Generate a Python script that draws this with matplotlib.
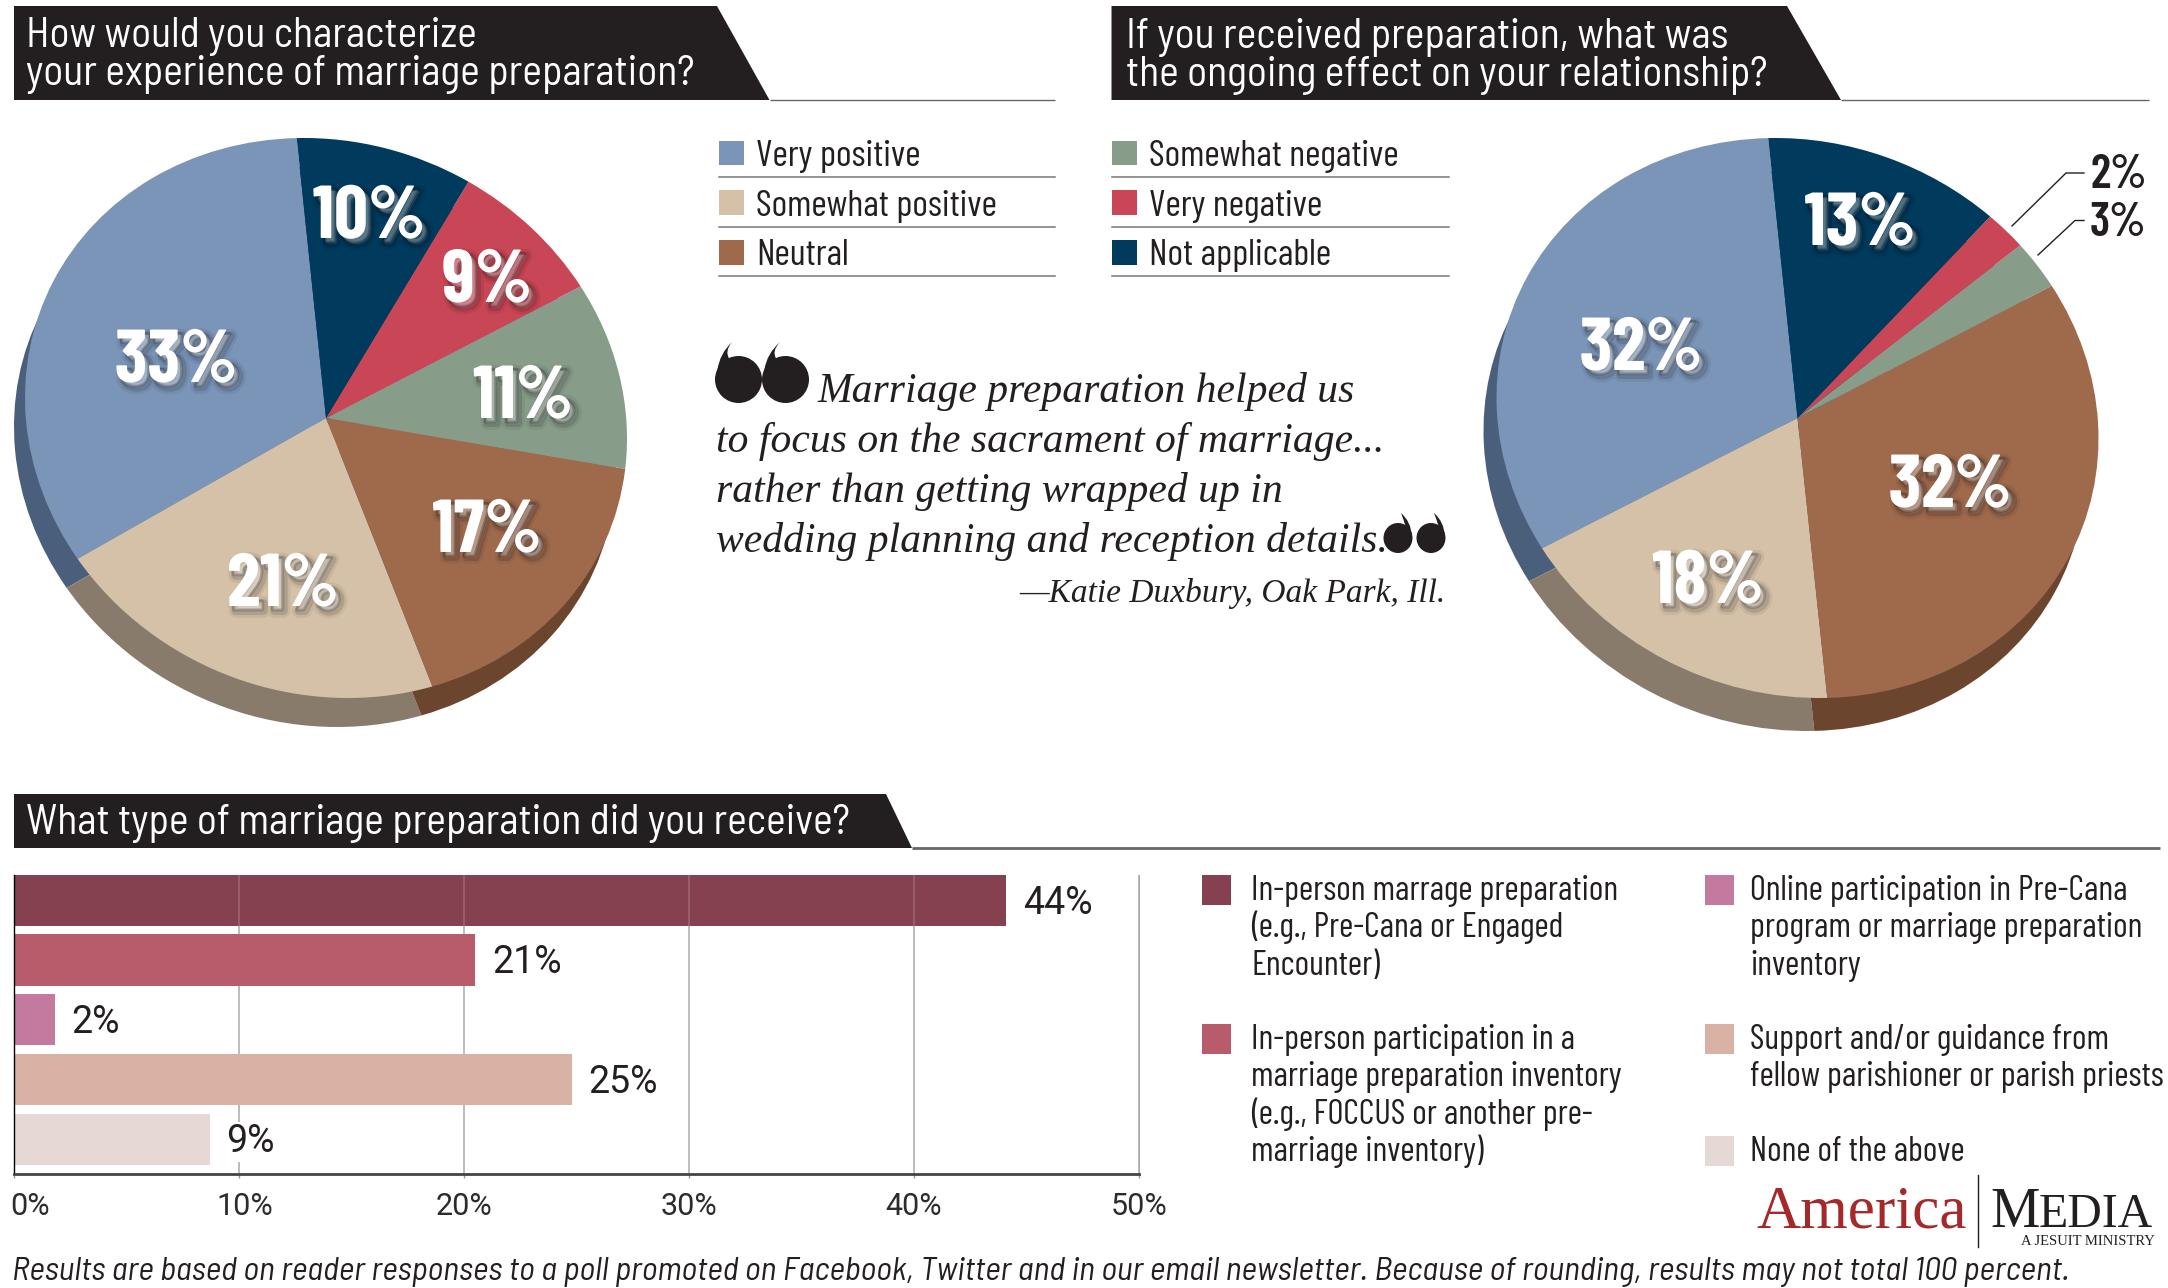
import matplotlib
matplotlib.use("Agg")
import matplotlib.pyplot as plt
import matplotlib.patheffects as pe
import numpy as np
from matplotlib.patches import Ellipse, PathPatch, Polygon, Rectangle
from matplotlib.path import Path
from matplotlib.transforms import Affine2D, ScaledTranslation

# canvas size in pixels, dpi 100
W, H = 2168, 1288

NARROW = ["Barlow Condensed", "Roboto", "DejaVu Sans"]
SEMI = ["Barlow Semi Condensed", "Roboto", "DejaVu Sans"]
SERIF = ["Liberation Serif", "DejaVu Serif"]
INK = "#231f20"

# pie data: printed percentages, and the slice sizes as actually drawn in the picture
pie1_labels = ["Very positive", "Somewhat positive", "Neutral"]
pie2_labels = ["Somewhat negative", "Very negative", "Not applicable"]
pie1_values = [33, 21, 17, 11, 9, 10]
pie1_shares = [33.0, 21.2, 17.5, 10.7, 8.2, 9.4]
pie2_values = [32, 18, 32, 3, 2, 13]
pie2_shares = [32.3, 17.7, 32.4, 2.75, 2.2, 12.6]
pie_colors = ["#7b95b8", "#d5c1a8", "#9f6a4c", "#889c8a", "#c84655", "#003a5d"]
pie_side_colors = ["#4a5f7c", "#887b6c", "#6b452e", "#889c8a", "#c84655", "#003a5d"]

# bar data
bar_values = [44.1, 20.5, 1.8, 24.8, 8.7]
bar_labels = ["44%", "21%", "2%", "25%", "9%"]
bar_colors = ["#85414f", "#b85c6b", "#c47a9e", "#d9b1a5", "#e6d8d4"]
bar_ticks = [0, 10, 20, 30, 40, 50]

legend_left = [
    "In-person marrage preparation\n(e.g., Pre-Cana or Engaged\nEncounter)",
    "In-person participation in a\nmarriage preparation inventory\n(e.g., FOCCUS or another pre-\nmarriage inventory)",
]
legend_right = [
    "Online participation in Pre-Cana\nprogram or marriage preparation\ninventory",
    "Support and/or guidance from\nfellow parishioner or parish priests",
    "None of the above",
]
quote_lines = [
    "Marriage preparation helped us",
    "to focus on the sacrament of marriage...",
    "rather than getting wrapped up in",
    "wedding planning and reception details.",
]
footer = ("Results are based on reader responses to a poll promoted on Facebook, Twitter "
          "and in our email newsletter. Because of rounding, results may not total 100 percent.")


def px_axes(fig, x0, y0, x1, y1, **kw):
    """axes placed by pixel box, y measured from the top"""
    return fig.add_axes([x0 / W, 1 - y1 / H, (x1 - x0) / W, (y1 - y0) / H], **kw)


def draw_pie(fig, values, cx, cy, dx, dy, start):
    # the disc in the picture is a slightly sheared ellipse, not an upright one
    lim = 350
    ax = px_axes(fig, cx - lim, cy - lim, cx + lim, cy + lim)
    side, _ = ax.pie(values, colors=pie_side_colors, startangle=start, wedgeprops={"linewidth": 0})
    top, _ = ax.pie(values, colors=pie_colors, startangle=start, wedgeprops={"linewidth": 0})
    ax.set_aspect("auto")
    ax.set_xlim(-lim, lim)
    ax.set_ylim(-lim, lim)
    ax.axis("off")
    disc = np.array([[300.2, -22, 0], [0, 280, 0], [0, 0, 1]], dtype=float)
    for w in side:
        w.set_transform(Affine2D(disc.copy()).translate(dx, -dy) + ax.transData)
    for w in top:
        w.set_transform(Affine2D(disc.copy()) + ax.transData)
    return ax


def title_bar(ax, x0, x1, x2, y0, y1, line_end, line_w=1.0):
    ax.plot([x2, line_end], [y1, y1], color="#666666", lw=line_w, solid_capstyle="butt")
    ax.add_patch(Polygon([(x0, y0), (x1, y0), (x2, y1), (x0, y1)], closed=True, fc=INK, ec="none"))


def pie_text(ax, x, y, s):
    ax.text(x, y + 5, s, color="white", family=NARROW, weight="bold", fontsize=54, ha="center", va="center",
            path_effects=[pe.Stroke(linewidth=9, foreground="black", alpha=0.06, offset=(4, -4)),
                          pe.Stroke(linewidth=5, foreground="black", alpha=0.12, offset=(4, -4)),
                          pe.Stroke(linewidth=2, foreground="black", alpha=0.2, offset=(3, -3)),
                          pe.Normal()])


def legend_rows(ax, x0, x1, labels, colors):
    for i, (lab, col) in enumerate(zip(labels, colors)):
        ax.add_patch(Rectangle((x0, 140.5 + 49.8 * i), 24.5, 24.5, fc=col, ec="none"))
        ax.text(x0 + 37, 166 + 49.5 * i, lab, family=NARROW, fontsize=27, color=INK, va="baseline")
        ax.plot([x0, x1], [177 + 49.5 * i] * 2, color="#777777", lw=1.1)


def quote_ball(ax, cx, cy, w, h, tip, left_tail):
    ax.add_patch(Ellipse((cx, cy), w, h, fc=INK, ec="none"))
    if left_tail:
        a, b = (cx - 0.45 * w, cy - 0.2 * h), (cx - 0.2 * w, cy - 0.45 * h)
        c1, c2 = (cx - 0.4 * w, cy - 0.55 * h), (cx - 0.3 * w, cy - 0.6 * h)
    else:
        a, b = (cx + 0.48 * w, cy - 0.05 * h), (cx + 0.25 * w, cy - 0.42 * h)
        c1, c2 = (cx + 0.45 * w, cy - 0.55 * h), (cx + 0.2 * w, cy - 0.6 * h)
    verts = [a, c1, tip, c2, b, a]
    codes = [Path.MOVETO, Path.CURVE3, Path.CURVE3, Path.CURVE3, Path.CURVE3, Path.CLOSEPOLY]
    ax.add_patch(PathPatch(Path(verts, codes), fc=INK, ec="none"))


fig = plt.figure(figsize=(W / 100, H / 100), dpi=100, facecolor="white")

# pies
draw_pie(fig, pie1_shares, 326, 418, -11, 29, 91.4)
draw_pie(fig, pie2_shares, 1797.5, 418, -13, 33, 91.4)

# bars
bar_ax = px_axes(fig, 14, 875, 1139, 1174)
ys = range(len(bar_values))
bar_ax.barh(ys, bar_values, height=0.855, color=bar_colors, zorder=2)
bar_ax.set_xlim(0, 50)
bar_ax.set_ylim(4.585, -0.424)
bar_ax.set_yticks([])
bar_ax.set_xticks(bar_ticks)
bar_ax.set_xticklabels([f"{t}%" for t in bar_ticks], family="Roboto", fontsize=22, color=INK, alpha=0.95)
bar_ax.tick_params(axis="x", length=3, width=1, color="#999999", pad=10)
tick_labels = bar_ax.get_xticklabels()
tick_labels[0].set_ha("left")
tick_labels[0].set_transform(tick_labels[0].get_transform() + ScaledTranslation(-3 / 72, 0, fig.dpi_scale_trans))
tick_labels[1].set_transform(tick_labels[1].get_transform() + ScaledTranslation(4 / 72, 0, fig.dpi_scale_trans))
bar_ax.grid(axis="x", color="#aaaaaa", lw=1.1, zorder=1)
bar_ax.set_axisbelow(True)
# the top bar lets the grid through, lighter
bar_ax.vlines(bar_ticks[1:5], -0.43, 0.43, color="#a0666f", lw=1.1, zorder=3)
bar_ax.spines["top"].set_visible(False)
bar_ax.spines["right"].set_color("#aaaaaa")
bar_ax.spines["left"].set_color("black")
bar_ax.spines["left"].set_linewidth(1.0)
bar_ax.spines["bottom"].set_color("#444444")
bar_ax.spines["bottom"].set_linewidth(2.0)
for y, v, lab in zip(ys, bar_values, bar_labels):
    bar_ax.annotate(lab, (v, y), xytext=(12, -2), textcoords="offset points", va="center", family="Roboto",
                    fontsize=27, color=INK, zorder=4,
                    bbox={"fc": "white", "ec": "none", "pad": 1})

# everything else lives in pixel coordinates on one overlay
ax = fig.add_axes([0, 0, 1, 1], facecolor="none")
ax.set_xlim(0, W)
ax.set_ylim(H, 0)
ax.axis("off")

title_bar(ax, 14, 717, 769.5, 6, 100, 1055)
title_bar(ax, 1111.5, 1787, 1841, 6, 100, 2149)
title_bar(ax, 14, 886, 912, 794, 848, 2160, 2.0)
title_kw = dict(family=SEMI, fontsize=30, color="white", va="baseline")
ax.text(26, 47, "How would you characterize", **title_kw)
ax.text(26, 85, "your experience of marriage preparation?", **title_kw)
ax.text(1126.5, 48, "If you received preparation, what was", **title_kw)
ax.text(1126.5, 85.5, "the ongoing effect on your relationship?", **title_kw)
ax.text(26, 834, "What type of marriage preparation did you receive?", **title_kw)

legend_rows(ax, 719, 1055, pie1_labels, pie_colors[:3])
legend_rows(ax, 1112, 1449, pie2_labels, pie_colors[3:])

# pie percent labels
for (x, y), v in zip([(176, 358), (283, 582), (487, 528), (523, 394), (487, 278), (369, 214)], pie1_values):
    pie_text(ax, x, y, f"{v}%")
pie2_pos = [(1641, 346), (1708, 579), (1950, 483), None, None, (1860, 221)]
for pos, v in zip(pie2_pos, pie2_values):
    if pos:
        pie_text(ax, pos[0], pos[1], f"{v}%")

# leaders for the two small slices
ax.plot([2012, 2066, 2084], [226, 173, 173], color=INK, lw=1)
ax.plot([2038, 2075, 2084], [255, 220.5, 220.5], color=INK, lw=1)
ax.text(2090, 188, f"{pie2_values[4]}%", family=NARROW, weight="semibold", fontsize=34, color=INK, va="baseline")
ax.text(2090, 236, f"{pie2_values[3]}%", family=NARROW, weight="semibold", fontsize=34, color=INK, va="baseline")

# quote
quote_ball(ax, 738.5, 379.5, 47, 47, (732, 342), True)
quote_ball(ax, 785.5, 379.5, 47, 47, (780, 342), True)
quote_x = [817, 716, 716, 716]
for i, line in enumerate(quote_lines):
    ax.text(quote_x[i], 401.5 + 50 * i, line, family=SERIF, style="italic", fontsize=30, color=INK, va="baseline")
quote_ball(ax, 1398, 538, 29, 30, (1401, 513), False)
quote_ball(ax, 1431, 538, 29, 30, (1434, 513), False)
ax.text(1445, 601.5, "\u2014Katie Duxbury, Oak Park, Ill.", family=SERIF, style="italic", fontsize=24, color=INK,
        ha="right", va="baseline")

# lower legend
leg_kw = dict(family=NARROW, fontsize=25, color=INK, va="baseline")
for y, lab, col in zip([875, 1024], legend_left, bar_colors[:2]):
    ax.add_patch(Rectangle((1202, y), 29, 30, fc=col, ec="none"))
    for j, row in enumerate(lab.split("\n")):
        ax.text(1251, y + 25 + 37.4 * j, row, **leg_kw)
for y, lab, col in zip([875, 1024, 1136], legend_right, bar_colors[2:]):
    ax.add_patch(Rectangle((1704.5, y), 29, 30, fc=col, ec="none"))
    for j, row in enumerate(lab.split("\n")):
        ax.text(1750.5, y + 25 + 37.4 * j, row, **leg_kw)

# logo
ax.text(1756, 1228, "America", family=SERIF, fontsize=44, color="#a5282a", va="baseline")
ax.plot([1978, 1978], [1175, 1247], color=INK, lw=1)
ax.text(1990, 1227, "M", family=SERIF, fontsize=40, color=INK, va="baseline")
ax.text(2039, 1227, "EDIA", family=SERIF, fontsize=34.5, color=INK, va="baseline")
ax.text(2155, 1245, "A JESUIT MINISTRY", family=SERIF, fontsize=10.5, color=INK, ha="right", va="baseline")

ax.text(11.5, 1280, footer, family=SEMI, style="italic", fontsize=24.2, color=INK, va="baseline")

fig.savefig("out.png", dpi=100)
